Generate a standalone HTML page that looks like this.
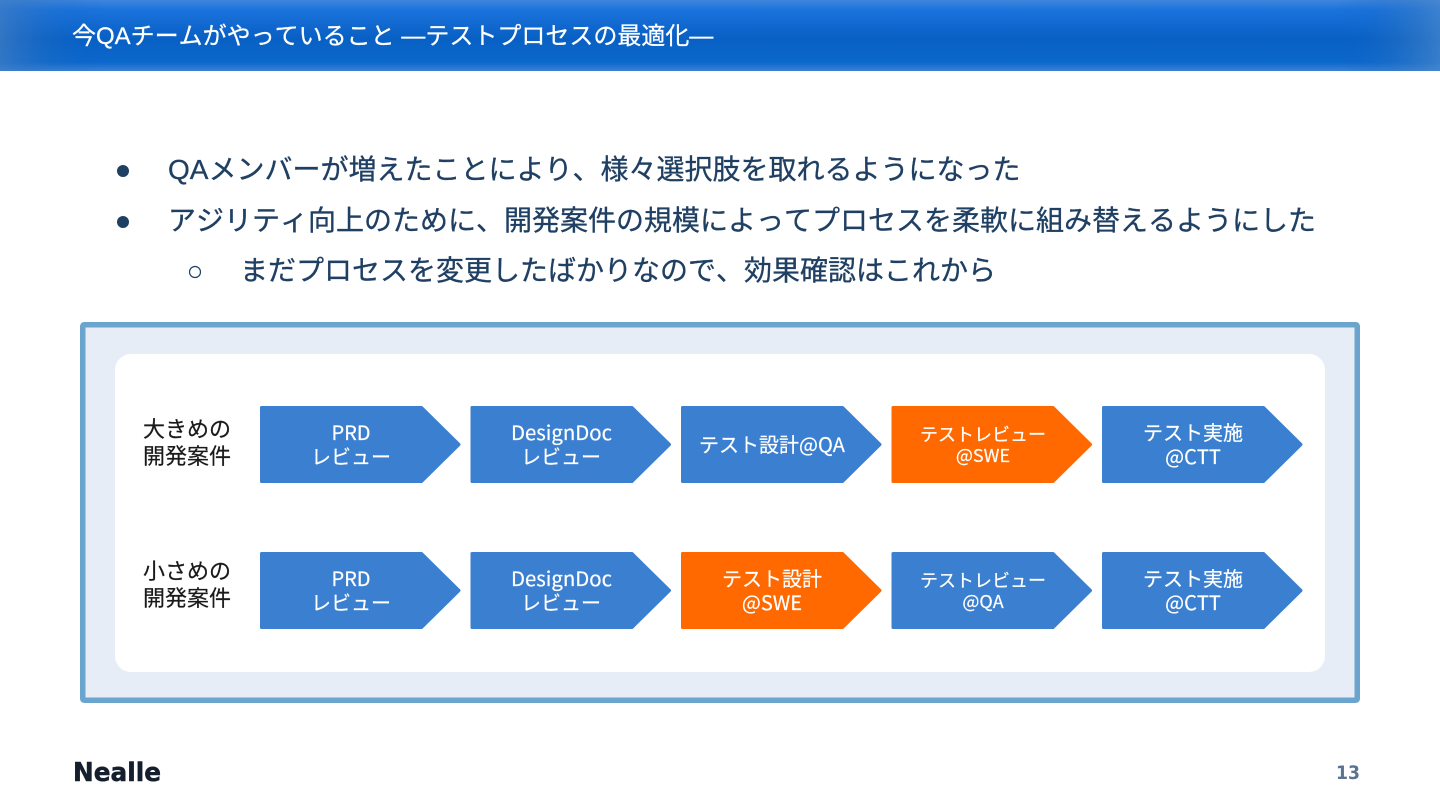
<!DOCTYPE html>
<html lang="ja">
<head>
<meta charset="utf-8">
<style>
html,body{margin:0;padding:0;background:#fff;}
body{width:1440px;height:810px;overflow:hidden;position:relative;}
svg{position:absolute;left:0;top:0;}
text{font-family:"Liberation Sans","Noto Sans CJK JP",sans-serif;font-kerning:none;font-feature-settings:"kern" 0,"palt" 0;}
.b{font-size:28px;fill:#1f3f63;stroke:#1f3f63;stroke-width:.3px;}
.w20{font-size:20px;fill:#fff;stroke:#fff;stroke-width:.2px;text-anchor:middle;font-family:"Noto Sans CJK JP",sans-serif;}
.w18{font-size:18px;fill:#fff;stroke:#fff;stroke-width:.2px;text-anchor:middle;font-family:"Noto Sans CJK JP",sans-serif;}
.l{font-size:22px;fill:#1a1a1a;stroke:#1a1a1a;stroke-width:.2px;}
</style>
</head>
<body>
<svg width="1440" height="810" viewBox="0 0 1440 810" xmlns="http://www.w3.org/2000/svg">
<defs>
<linearGradient id="hv" x1="0" y1="0" x2="0" y2="1">
<stop offset="0" stop-color="#3f86dc"/><stop offset=".14" stop-color="#1a72dc"/><stop offset=".55" stop-color="#0860c4"/><stop offset=".88" stop-color="#0c68cc"/><stop offset="1" stop-color="#3c82d4"/>
</linearGradient>
<linearGradient id="hl" x1="0" y1="0" x2="1" y2="0">
<stop offset="0" stop-color="#3f7cc4" stop-opacity=".75"/><stop offset=".035" stop-color="#2a70c0" stop-opacity=".25"/><stop offset=".07" stop-color="#0860c4" stop-opacity="0"/><stop offset=".93" stop-color="#0860c4" stop-opacity="0"/><stop offset=".98" stop-color="#3a7cc4" stop-opacity=".5"/><stop offset="1" stop-color="#4a88cc" stop-opacity=".7"/>
</linearGradient>
<path id="a" d="M1.5 1.5H161.5L199 38.5L161.5 75.5H1.5Z" stroke-width="3" stroke-linejoin="round"/>
</defs>
<rect x="0" y="0" width="1440" height="71" fill="url(#hv)"/>
<rect x="0" y="0" width="1440" height="71" fill="url(#hl)"/>
<text x="72" y="44" font-size="24" fill="#fff" stroke="#fff" stroke-width=".25">今QAチームがやっていること —テストプロセスの最適化—</text>

<circle cx="123" cy="171" r="6" fill="#1f3f63"/>
<text x="168" y="179" class="b">QAメンバーが増えたことにより、様々選択肢を取れるようになった</text>
<circle cx="123" cy="222" r="6" fill="#1f3f63"/>
<text x="168" y="230" class="b">アジリティ向上のために、開発案件の規模によってプロセスを柔軟に組み替えるようにした</text>
<circle cx="195" cy="272" r="5.5" fill="none" stroke="#1f3f63" stroke-width="1.2"/>
<text x="240" y="280" class="b">まだプロセスを変更したばかりなので、効果確認はこれから</text>

<rect x="82.75" y="324.75" width="1274.5" height="375.5" rx="1.5" fill="#e6edf7" stroke="#6ba5cd" stroke-width="5.5" stroke-linejoin="round"/>
<rect x="115" y="354" width="1210" height="318" rx="16" fill="#fff"/>

<text x="143" y="437" class="l">大きめの</text>
<text x="143" y="464" class="l">開発案件</text>
<text x="143" y="579" class="l">小さめの</text>
<text x="143" y="606" class="l">開発案件</text>

<use href="#a" x="260" y="406" fill="#3b7fd0" stroke="#3b7fd0"/>
<use href="#a" x="470.5" y="406" fill="#3b7fd0" stroke="#3b7fd0"/>
<use href="#a" x="681" y="406" fill="#3b7fd0" stroke="#3b7fd0"/>
<use href="#a" x="891.5" y="406" fill="#ff6900" stroke="#ff6900"/>
<use href="#a" x="1102" y="406" fill="#3b7fd0" stroke="#3b7fd0"/>
<use href="#a" x="260" y="552" fill="#3b7fd0" stroke="#3b7fd0"/>
<use href="#a" x="470.5" y="552" fill="#3b7fd0" stroke="#3b7fd0"/>
<use href="#a" x="681" y="552" fill="#ff6900" stroke="#ff6900"/>
<use href="#a" x="891.5" y="552" fill="#3b7fd0" stroke="#3b7fd0"/>
<use href="#a" x="1102" y="552" fill="#3b7fd0" stroke="#3b7fd0"/>

<text x="351" y="440" class="w20">PRD</text>
<text x="351" y="464" class="w20">レビュー</text>
<text x="561.5" y="440" class="w20" textLength="101" lengthAdjust="spacingAndGlyphs">DesignDoc</text>
<text x="561" y="464" class="w20">レビュー</text>
<text x="772" y="452" class="w20">テスト設計@QA</text>
<text x="983" y="441" class="w18">テストレビュー</text>
<text x="983" y="462" class="w18">@SWE</text>
<text x="1193" y="440" class="w20">テスト実施</text>
<text x="1193" y="464" class="w20">@CTT</text>

<text x="351" y="586" class="w20">PRD</text>
<text x="351" y="610" class="w20">レビュー</text>
<text x="561.5" y="586" class="w20" textLength="101" lengthAdjust="spacingAndGlyphs">DesignDoc</text>
<text x="561" y="610" class="w20">レビュー</text>
<text x="772" y="586" class="w20">テスト設計</text>
<text x="772" y="610" class="w20">@SWE</text>
<text x="983" y="587" class="w18">テストレビュー</text>
<text x="983" y="608" class="w18">@QA</text>
<text x="1193" y="586" class="w20">テスト実施</text>
<text x="1193" y="610" class="w20">@CTT</text>

<text x="73" y="781" style="font-family:'DejaVu Sans',sans-serif" font-weight="700" font-size="26" fill="#141e2d" stroke="#141e2d" stroke-width=".5" textLength="88" lengthAdjust="spacingAndGlyphs">Nealle</text>
<text x="1336" y="779" style="font-family:'DejaVu Sans',sans-serif" font-weight="700" font-size="19" fill="#5a7390" textLength="24" lengthAdjust="spacingAndGlyphs">13</text>
</svg>
</body>
</html>
